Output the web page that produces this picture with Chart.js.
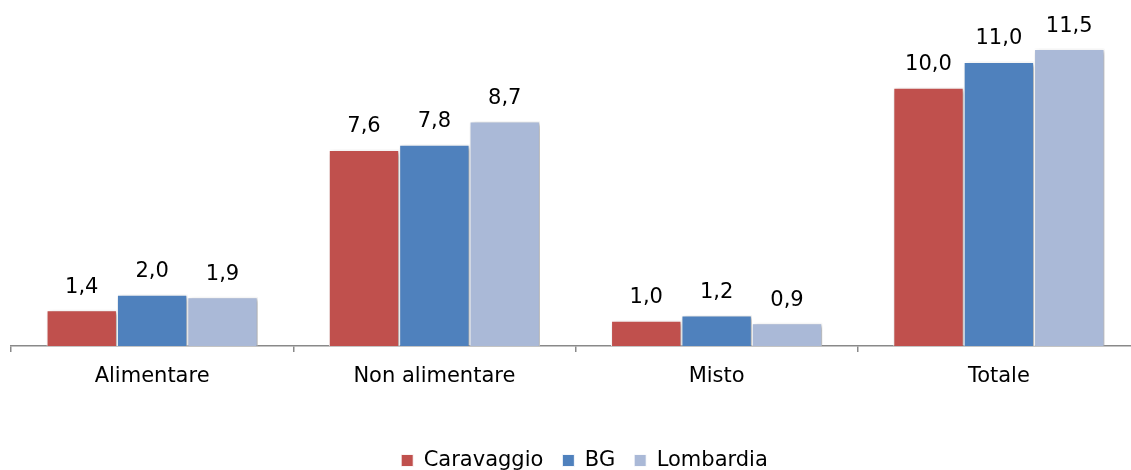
<!DOCTYPE html>
<html>
<head>
<meta charset="utf-8">
<script src="https://cdn.jsdelivr.net/npm/chart.js@4.4.1/dist/chart.umd.min.js"></script>
<style>
  html, body { margin: 0; padding: 0; background: #fff; overflow: hidden; width: 1131px; height: 470px; }
  #wrap { position: absolute; left: 0; top: 0; width: 1140px; height: 481px; }
</style>
</head>
<body>
<div id="wrap"><canvas id="c" width="1140" height="481"></canvas></div>
<script>
const categories = ["Alimentare", "Non alimentare", "Misto", "Totale"];
const seriesNames = ["Caravaggio", "BG", "Lombardia"];
const caravaggio = [1.4, 7.6, 1.0, 10.0];
const bg = [2.0, 7.8, 1.2, 11.0];
const lombardia = [1.9, 8.7, 0.9, 11.5];
const colors = ["#C0504D", "#4F81BD", "#AAB9D7"];

const FONT = "'DejaVu Sans', Verdana, sans-serif";

const shadowPlugin = {
  id: 'barShadow',
  beforeDatasetDraw(chart) {
    const ctx = chart.ctx;
    ctx.save();
    ctx.shadowColor = 'rgba(0,0,0,0.35)';
    ctx.shadowBlur = 4;
    ctx.shadowOffsetX = 2;
    ctx.shadowOffsetY = 2;
  },
  afterDatasetDraw(chart) {
    chart.ctx.restore();
  }
};

const labelPlugin = {
  id: 'valueLabels',
  afterDatasetsDraw(chart) {
    const ctx = chart.ctx;
    ctx.save();
    ctx.font = "21px " + FONT;
    ctx.fillStyle = "#000";
    ctx.textAlign = "center";
    ctx.textBaseline = "alphabetic";
    chart.data.datasets.forEach((ds, di) => {
      const meta = chart.getDatasetMeta(di);
      meta.data.forEach((bar, i) => {
        const v = ds.data[i];
        ctx.fillText(v.toFixed(1).replace('.', ','), bar.x, bar.y - 17);
      });
    });
    ctx.restore();
  }
};

const legendShift = {
  id: 'legendShift',
  afterLayout(chart) {
    if (chart.legend) { chart.legend.left += 18; chart.legend.right += 0; }
  }
};

new Chart(document.getElementById('c'), {
  type: 'bar',
  data: {
    labels: categories,
    datasets: [
      { label: seriesNames[0], data: caravaggio, backgroundColor: colors[0] },
      { label: seriesNames[1], data: bg, backgroundColor: colors[1] },
      { label: seriesNames[2], data: lombardia, backgroundColor: colors[2] }
    ]
  },
  options: {
    responsive: false,
    animation: false,
    devicePixelRatio: 1,
    layout: { padding: { left: 11, right: 0, top: 11, bottom: 0 } },
    datasets: {
      bar: {
        categoryPercentage: 0.748,
        barPercentage: 1.0,
        borderColor: '#ffffff',
        borderWidth: { top: 1.5, left: 1, right: 1, bottom: 0 },
        borderSkipped: false
      }
    },
    scales: {
      x: {
        grid: { display: true, drawOnChartArea: false, drawTicks: true, tickLength: 6, color: '#898989', lineWidth: 1.5, offset: true },
        border: { display: true, color: '#898989', width: 1.5 },
        ticks: { color: '#000', font: { family: FONT, size: 21 }, padding: 12, maxRotation: 0, autoSkip: false },
        afterFit(scale) { scale.height = 85; }
      },
      y: {
        display: false,
        min: 0,
        max: 12.95
      }
    },
    plugins: {
      legend: {
        position: 'bottom',
        labels: {
          color: '#000',
          font: { family: FONT, size: 21 },
          boxWidth: 12,
          boxHeight: 12,
          padding: 19
        }
      },
      tooltip: { enabled: false }
    }
  },
  plugins: [shadowPlugin, labelPlugin, legendShift]
});
</script>
</body>
</html>
